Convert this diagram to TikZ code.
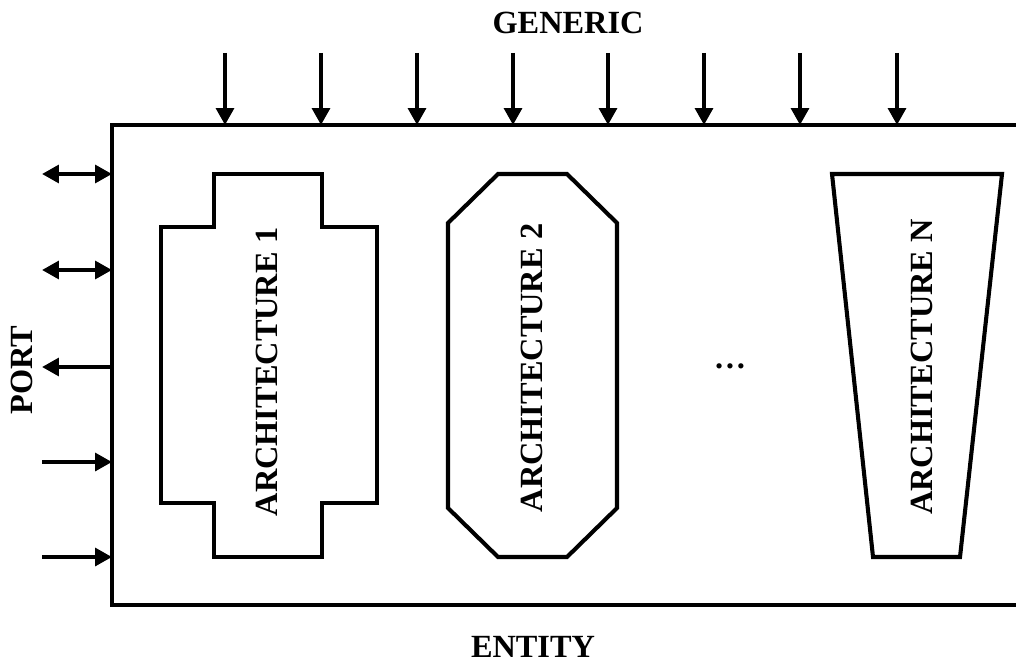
\documentclass[tikz,border=0pt]{standalone}
\usepackage{fontspec}
\setmainfont{Liberation Serif}
\usetikzlibrary{arrows.meta}
\begin{document}
\begin{tikzpicture}[x=0.025cm,y=-0.025cm,
  line width=2.9pt,
  tip/.style={-{Triangle[length=12pt,width=12.5pt]}},
  both tip/.style={{Triangle[length=12pt,width=12.5pt]}-{Triangle[length=12pt,width=12.5pt]}},
  label node/.style={font=\fontsize{23}{27}\selectfont\bfseries,inner sep=0pt}]

  \useasboundingbox (0,0) rectangle (1016,663);

  % entity box (right side runs off the page)
  \begin{scope}
    \clip (0,0) rectangle (1016,663);
    \draw (112,125) rectangle (1040,605);
  \end{scope}

  % generic inputs
  \coordinate (g1) at (225,53);  \coordinate (e1) at (225,125);
  \coordinate (g2) at (321,53);  \coordinate (e2) at (321,125);
  \coordinate (g3) at (417,53);  \coordinate (e3) at (417,125);
  \coordinate (g4) at (513,53);  \coordinate (e4) at (513,125);
  \coordinate (g5) at (608,53);  \coordinate (e5) at (608,125);
  \coordinate (g6) at (704,53);  \coordinate (e6) at (704,125);
  \coordinate (g7) at (800,53);  \coordinate (e7) at (800,125);
  \coordinate (g8) at (897,53);  \coordinate (e8) at (897,125);

  % ports
  \coordinate (p1) at (42,174);  \coordinate (b1) at (112,174);
  \coordinate (p2) at (42,270);  \coordinate (b2) at (112,270);
  \coordinate (p3) at (42,367);  \coordinate (b3) at (112,367);
  \coordinate (p4) at (42,462);  \coordinate (b4) at (112,462);
  \coordinate (p5) at (42,557);  \coordinate (b5) at (112,557);

  \path[tip]
   (g1) edge (e1)
   (g2) edge (e2)
   (g3) edge (e3)
   (g4) edge (e4)
   (g5) edge (e5)
   (g6) edge (e6)
   (g7) edge (e7)
   (g8) edge (e8)

   (b3) edge (p3)
   (p4) edge (b4)
   (p5) edge (b5);

  \path[both tip]
   (p1) edge (b1)
   (p2) edge (b2);

  % architecture 1
  \draw (214,174) -- (322,174) -- (322,227) -- (377,227) -- (377,503)
    -- (322,503) -- (322,557) -- (214,557) -- (214,503) -- (161,503)
    -- (161,227) -- (214,227) -- cycle;

  % architecture 2
  \draw (498,174) -- (567,174) -- (617,223) -- (617,508) -- (567,557)
    -- (498,557) -- (448,508) -- (448,223) -- cycle;

  % architecture N
  \draw (832,174) -- (1002,174) -- (960,557) -- (873,557) -- cycle;

  \node[label node] (generic) at (568,23) {GENERIC};
  \node[label node] (entity) at (533,647) {ENTITY};
  \node[label node,rotate=90] (port) at (22,370) {PORT};
  \node[label node,rotate=90] (arch1) at (267,372) {ARCHITECTURE 1};
  \node[label node,rotate=90] (arch2) at (532,368) {ARCHITECTURE 2};
  \node[label node,rotate=90] (archN) at (922,367) {ARCHITECTURE N};
  \node[label node] (dots) at (730,366) {\dots};
\end{tikzpicture}
\end{document}
